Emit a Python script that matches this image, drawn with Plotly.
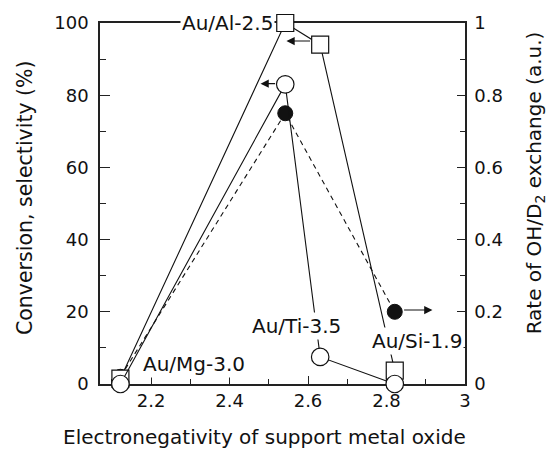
import plotly.graph_objects as go

# ---- data ----
electroneg = [2.122, 2.542, 2.631, 2.821]          # x of each catalyst
square_vals = [1.5, 100.0, 94.0, 3.7]              # open squares (%)
open_circle_vals = [0.0, 83.0, 7.5, 0.0]           # open circles (%)
rate_x = [2.122, 2.542, 2.821]                     # filled circles x
rate_vals = [0.02, 0.75, 0.20]                     # OH/D2 exchange rate (a.u.)

x_tickvals = [2.2, 2.4, 2.6, 2.8, 3.0]
x_ticktext = ["2.2", "2.4", "2.6", "2.8", "3"]
left_tickvals = [0, 20, 40, 60, 80, 100]
left_ticktext = ["0", "20", "40", "60", "80", "100"]
right_tickvals = [0, 0.2, 0.4, 0.6, 0.8, 1.0]
right_ticktext = ["0", "0.2", "0.4", "0.6", "0.8", "1"]

labels = ["Au/Al-2.5", "Au/Mg-3.0", "Au/Ti-3.5", "Au/Si-1.9"]
label_x = [2.394, 2.309, 2.571, 2.877]
label_y = [100.0, 5.5, 16.0, 11.8]

FONT = "DejaVu Sans"
INK = "#111111"

fig = go.Figure()

# filled circles on the rate axis (base layer, drawn under the others)
fig.add_trace(go.Scatter(
    x=rate_x, y=rate_vals, yaxis="y", mode="lines+markers",
    line=dict(color=INK, width=1.1, dash="5px,4px"),
    marker=dict(symbol="circle", size=15, color=INK, line=dict(color=INK, width=1)),
    cliponaxis=False, showlegend=False))

# open squares
fig.add_trace(go.Scatter(
    x=electroneg, y=square_vals, yaxis="y2", mode="lines+markers",
    line=dict(color=INK, width=1.1),
    marker=dict(symbol="square", size=17, color="white", line=dict(color=INK, width=1.2)),
    cliponaxis=False, showlegend=False))

# open circles
fig.add_trace(go.Scatter(
    x=electroneg, y=open_circle_vals, yaxis="y2", mode="lines+markers",
    line=dict(color=INK, width=1.1),
    marker=dict(symbol="circle", size=17.5, color="white", line=dict(color=INK, width=1.2)),
    cliponaxis=False, showlegend=False))

annotations = []
for t, x, y in zip(labels, label_x, label_y):
    annotations.append(dict(x=x, y=y, xref="x", yref="y2", text=t, showarrow=False,
                            xanchor="center", yanchor="middle", bgcolor="white",
                            borderpad=1, font=dict(family=FONT, size=20, color=INK)))

# arrows indicating the relevant axis
arrows = [
    (2.545, 95.0, 2.609, 95.0, "y2"),
    (2.479, 83.2, 2.520, 83.2, "y2"),
    (2.917, 0.205, 2.841, 0.205, "y"),
]
for hx, hy, tx, ty, yr in arrows:
    annotations.append(dict(x=hx, y=hy, ax=tx, ay=ty, xref="x", yref=yr,
                            axref="x", ayref=yr, text="", showarrow=True,
                            arrowhead=2, arrowsize=1.5, arrowwidth=1.1,
                            arrowcolor=INK, standoff=0, startstandoff=0))

# axis titles
annotations.append(dict(x=0.452, y=-0.146, xref="paper", yref="paper",
                        text="Electronegativity of support metal oxide", showarrow=False,
                        xanchor="center", yanchor="middle",
                        font=dict(family=FONT, size=20, color=INK)))
annotations.append(dict(x=-0.2055, y=0.518, xref="paper", yref="paper",
                        text="Conversion, selectivity (%)", showarrow=False, textangle=-90,
                        xanchor="center", yanchor="middle",
                        font=dict(family=FONT, size=20.5, color=INK)))
annotations.append(dict(x=1.192, y=0.556, xref="paper", yref="paper",
                        text="Rate of OH/D<sub>2</sub> exchange (a.u.)", showarrow=False,
                        textangle=-90, xanchor="center", yanchor="middle",
                        font=dict(family=FONT, size=20, color=INK)))

axis_common = dict(showline=True, linecolor="#222222", linewidth=1.5, showgrid=False,
                   zeroline=False, ticks="inside", tickcolor="#222222", tickwidth=1.3,
                   tickfont=dict(family=FONT, size=18, color=INK), layer="below traces")

fig.update_layout(
    width=549, height=449,
    margin=dict(l=100, r=84, t=21, b=65),
    paper_bgcolor="white", plot_bgcolor="white",
    xaxis=dict(range=[2.07, 3.0], tickmode="array", tickvals=x_tickvals, ticktext=x_ticktext,
               ticklen=8, mirror=True, anchor="y",
               minor=dict(dtick=0.1, tick0=2.0, ticks="inside", ticklen=5, tickcolor="#222222"),
               **axis_common),
    yaxis=dict(range=[0, 1.0], side="right", tickmode="array", tickvals=right_tickvals,
               ticktext=right_ticktext, ticklen=8, ticklabelstandoff=4,
               minor=dict(dtick=0.1, tick0=0, ticks="inside", ticklen=5, tickcolor="#222222"),
               **axis_common),
    yaxis2=dict(range=[0, 100], side="left", overlaying="y", anchor="x", tickmode="array",
                tickvals=left_tickvals, ticktext=left_ticktext, ticklen=10, ticklabelstandoff=6,
                minor=dict(dtick=10, tick0=0, ticks="inside", ticklen=6, tickcolor="#222222"),
                **axis_common),
    annotations=annotations,
)

fig.write_html("out.html", config={"displayModeBar": False},
               post_script="document.body.style.margin='0px';document.body.style.padding='0px';")
